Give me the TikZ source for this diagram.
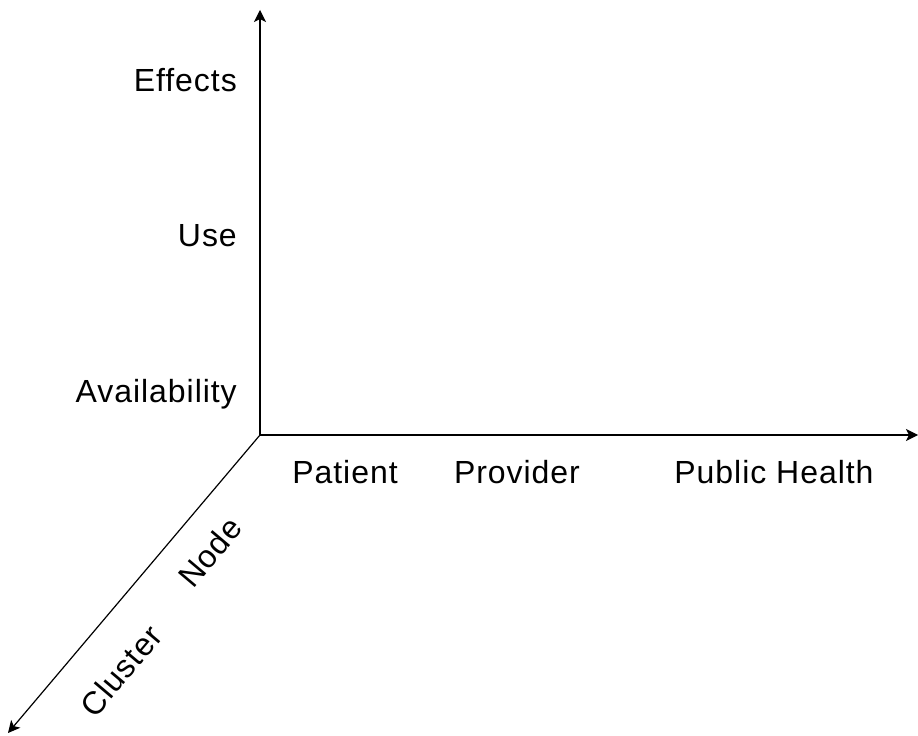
\documentclass[tikz,border=0pt]{standalone}
\usepackage{fontspec}
\setmainfont{Liberation Sans}[LetterSpace=3]
\usetikzlibrary{arrows.meta}
\begin{document}
\begin{tikzpicture}[x=1pt, y=1pt,
    axis/.style = {line width=1.2pt, -{Stealth[length=12pt, width=12pt, inset=3pt]}},
    lbl/.style = {font=\fontsize{32}{38}\selectfont, inner sep=0pt}]
    \useasboundingbox (0,0) rectangle (918,736);
    \coordinate (o) at (260,301);
    \coordinate (ytop) at (260,726);
    \coordinate (xend) at (918,301);
    \coordinate (zend) at (8,3);
    \draw[axis] (o) -- (ytop);
    \draw[axis] (o) -- (xend);
    \draw[axis] (o) -- (zend);
    \node[lbl, anchor=east] (effects) at (237,656) {Effects};
    \node[lbl, anchor=east] (use) at (237,500) {Use};
    \node[lbl, anchor=east] (avail) at (237,342) {Availability};
    \node[lbl] (patient) at (345,264) {Patient};
    \node[lbl] (provider) at (517,264) {Provider};
    \node[lbl] (public) at (774,264) {Public Health};
    \node[lbl, rotate=49.8] (node) at (210,184) {Node};
    \node[lbl, rotate=49.8] (cluster) at (121,65) {Cluster};
\end{tikzpicture}
\end{document}
